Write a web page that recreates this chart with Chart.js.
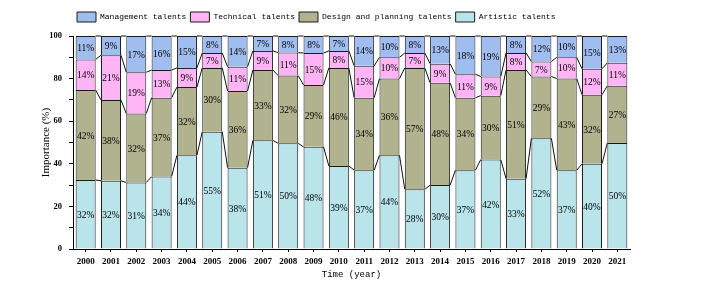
<!DOCTYPE html>
<html>
<head>
    <meta charset="utf-8" />
    <title>Importance of talents by year</title>
    <script src="https://cdn.jsdelivr.net/npm/chart.js"></script>
    <style>
        html, body { margin: 0; padding: 0; background: #fff; }
        #chart { display: block; }
    </style>
</head>
<body>
    <canvas id="chart" width="703" height="295"></canvas>
    <script>
        const years = ['2000', '2001', '2002', '2003', '2004', '2005', '2006', '2007', '2008', '2009', '2010',
                       '2011', '2012', '2013', '2014', '2015', '2016', '2017', '2018', '2019', '2020', '2021'];

        // stacked bottom -> top, labels show rounded values
        const artistic   = [32.4, 32, 31.2, 34, 44, 55, 38.2, 51, 49.6, 48, 39, 37, 44, 28, 30, 37, 42, 33, 52, 37, 40, 49.8];
        const design     = [42.2, 38, 32.4, 37, 32, 30, 36.0, 33, 31.8, 29, 46, 34, 36, 57, 48, 34, 30, 51, 29, 43, 32.4, 26.8];
        const technical  = [14.4, 21, 19.4, 13,  9,  7, 11.4,  9, 10.8, 15,  8, 15, 10,  7,  9, 11,  9,  8,  7, 10, 12.2, 10.8];
        const management = [11.0,  9, 17.0, 16, 15,  8, 14.4,  7,  7.8,  8,  7, 14, 10,  8, 13, 18, 19,  8, 12, 10, 15.4, 12.6];

        const yTicks = [0, 20, 40, 60, 80, 100];

        Chart.defaults.color = '#000';

        // thin lines joining the top of each segment to the same segment in the next bar
        const seriesLines = {
            id: 'seriesLines',
            afterDatasetsDraw(chart) {
                const ctx = chart.ctx;
                ctx.save();
                ctx.strokeStyle = '#111';
                ctx.lineWidth = 1;
                chart.data.datasets.forEach((ds, di) => {
                    const bars = chart.getDatasetMeta(di).data;
                    ctx.beginPath();
                    for (let i = 0; i < bars.length - 1; i++) {
                        const a = bars[i], b = bars[i + 1];
                        ctx.moveTo(a.x + a.width / 2, a.y);
                        ctx.lineTo(b.x - b.width / 2, b.y);
                    }
                    ctx.stroke();
                });
                ctx.restore();
            }
        };

        // percentage text in the middle of each segment
        const segmentLabels = {
            id: 'segmentLabels',
            afterDatasetsDraw(chart) {
                const ctx = chart.ctx;
                ctx.save();
                ctx.font = '9.5px "Liberation Serif"';
                ctx.fillStyle = '#000';
                ctx.textAlign = 'center';
                ctx.textBaseline = 'middle';
                chart.data.datasets.forEach((ds, di) => {
                    chart.getDatasetMeta(di).data.forEach((bar, i) => {
                        ctx.fillText(Math.round(ds.data[i]) + '%', bar.x, (bar.y + bar.base) / 2 + 1);
                    });
                });
                ctx.restore();
            }
        };

        // nudge the legend up a bit, the plot area keeps its place
        const legendNudge = {
            id: 'legendNudge',
            afterLayout(chart) {
                if (chart.legend) {
                    chart.legend.top -= 4;
                    chart.legend.bottom -= 4;
                }
            }
        };

        const barStyle = { borderColor: '#1a1a1a', borderWidth: 1, barPercentage: 0.79, categoryPercentage: 1 };

        new Chart(document.getElementById('chart'), {
            type: 'bar',
            data: {
                labels: years,
                datasets: [
                    Object.assign({ label: 'Artistic talents', data: artistic, backgroundColor: '#b8e4ea' }, barStyle),
                    Object.assign({ label: 'Design and planning talents', data: design, backgroundColor: '#b1b28e' }, barStyle),
                    Object.assign({ label: 'Technical talents', data: technical, backgroundColor: '#ffb4f6' }, barStyle),
                    Object.assign({ label: 'Management talents', data: management, backgroundColor: '#a0bdf0' }, barStyle)
                ]
            },
            options: {
                responsive: false,
                animation: false,
                layout: { padding: { top: 12, right: 73, bottom: 8, left: 0 } },
                plugins: {
                    tooltip: { enabled: false },
                    legend: {
                        position: 'top',
                        align: 'start',
                        fullSize: false,
                        reverse: true,
                        labels: {
                            boxWidth: 19,
                            boxHeight: 10,
                            padding: 4,
                            color: '#000',
                            font: { family: '"Liberation Mono", monospace', size: 8 }
                        }
                    }
                },
                scales: {
                    x: {
                        stacked: true,
                        grid: { offset: false, drawOnChartArea: false, drawTicks: true, tickLength: 3, tickColor: '#000' },
                        border: { display: true, color: '#000', width: 1 },
                        ticks: {
                            padding: 4,
                            maxRotation: 0,
                            autoSkip: false,
                            color: '#000',
                            font: { family: '"Liberation Serif", serif', size: 9, weight: 'bold' }
                        },
                        title: {
                            display: true,
                            text: 'Time (year)',
                            color: '#000',
                            padding: { top: 0, bottom: 7 },
                            font: { family: '"Liberation Mono", monospace', size: 9 }
                        },
                        afterFit(scale) { scale.height = 38; }
                    },
                    y: {
                        stacked: true,
                        min: 0,
                        max: 100,
                        grid: { drawOnChartArea: false, drawTicks: true, tickLength: 4, tickColor: '#000' },
                        border: { display: true, color: '#000', width: 1 },
                        ticks: {
                            stepSize: 10,
                            padding: 7,
                            color: '#000',
                            font: { family: '"Liberation Serif", serif', size: 8.5, weight: 'bold' },
                            callback: (v) => yTicks.includes(v) ? v : ''
                        },
                        title: {
                            display: true,
                            text: 'Importance (%)',
                            color: '#000',
                            padding: { top: 40, bottom: 0 },
                            font: { family: '"Liberation Serif", serif', size: 11 }
                        },
                        afterFit(scale) { scale.width = 73; }
                    }
                }
            },
            plugins: [seriesLines, segmentLabels, legendNudge]
        });
    </script>
</body>
</html>
